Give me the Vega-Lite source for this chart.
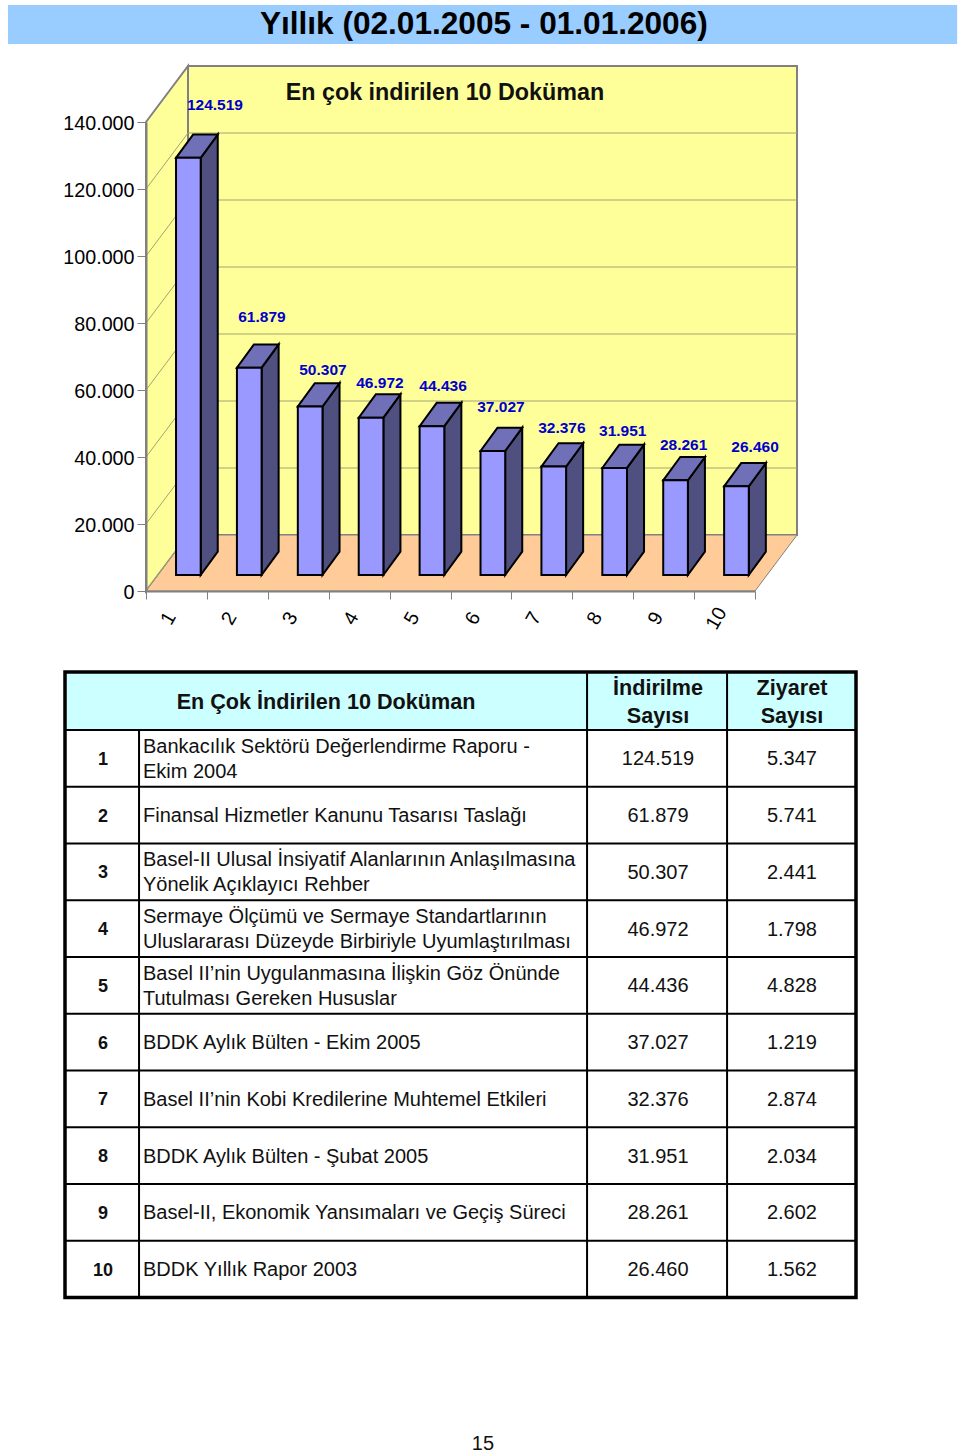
{
"$schema":"https://vega.github.io/schema/vega-lite/v6.json",
"width":960,"height":1454,"padding":0,"background":"white",
"autosize":{"type":"fit","contains":"padding"},
"config":{"view":{"stroke":null},"font":"Liberation Sans","text":{"font":"Liberation Sans"}},
"datasets":{
"belgeler":[
{"sira":1,"baslik":"Bankacılık Sektörü Değerlendirme Raporu -\nEkim 2004","indirilme":124519,"ziyaret":5347},
{"sira":2,"baslik":"Finansal Hizmetler Kanunu Tasarısı Taslağı","indirilme":61879,"ziyaret":5741},
{"sira":3,"baslik":"Basel-II Ulusal İnsiyatif Alanlarının Anlaşılmasına\nYönelik Açıklayıcı Rehber","indirilme":50307,"ziyaret":2441},
{"sira":4,"baslik":"Sermaye Ölçümü ve Sermaye Standartlarının\nUluslararası Düzeyde Birbiriyle Uyumlaştırılması","indirilme":46972,"ziyaret":1798},
{"sira":5,"baslik":"Basel II’nin Uygulanmasına İlişkin Göz Önünde\nTutulması Gereken Hususlar","indirilme":44436,"ziyaret":4828},
{"sira":6,"baslik":"BDDK Aylık Bülten - Ekim 2005","indirilme":37027,"ziyaret":1219},
{"sira":7,"baslik":"Basel II’nin Kobi Kredilerine Muhtemel Etkileri","indirilme":32376,"ziyaret":2874},
{"sira":8,"baslik":"BDDK Aylık Bülten - Şubat 2005","indirilme":31951,"ziyaret":2034},
{"sira":9,"baslik":"Basel-II, Ekonomik Yansımaları ve Geçiş Süreci","indirilme":28261,"ziyaret":2602},
{"sira":10,"baslik":"BDDK Yıllık Rapor 2003","indirilme":26460,"ziyaret":1562}
],
"eksen":[{"deger":0},{"deger":20000},{"deger":40000},{"deger":60000},{"deger":80000},{"deger":100000},{"deger":120000},{"deger":140000}],
"derinlik":[{"k":0},{"k":1}],
"tek":[{"n":1}]
},
"resolve":{"scale":{"x":"independent","y":"independent"}},
"layer":[
{"layer":[
{"data":{"name":"derinlik"},
"transform":[{"calculate":"0.5+datum.k*0.69","as":"xp"},{"calculate":"140000+datum.k*16716","as":"ust"},{"calculate":"datum.k*16716","as":"alt"}],
"mark":{"type":"area","fill":"#ffff99","stroke":"#808080","strokeWidth":2},
"encoding":{"x":{"field":"xp","type":"quantitative","axis":null,"scale":{"domain":[0.5,10.5],"range":[146,755]}},
"y":{"field":"ust","type":"quantitative","axis":null,"stack":null,"scale":{"domain":[0,140000],"range":[591,122]}},
"y2":{"field":"alt"}}},
{"data":{"name":"tek"},
"mark":{"type":"rect","fill":"#ffff99","stroke":"#808080","strokeWidth":2},
"encoding":{"x":{"datum":1.19,"type":"quantitative","axis":null,"scale":{"domain":[0.5,10.5],"range":[146,755]}},"x2":{"datum":11.19},
"y":{"datum":16716,"type":"quantitative","axis":null,"scale":{"domain":[0,140000],"range":[591,122]}},"y2":{"datum":156716}}},
{"data":{"name":"derinlik"},
"transform":[{"calculate":"0.5+datum.k*0.69","as":"sol"},{"calculate":"10.5+datum.k*0.69","as":"sag"},{"calculate":"datum.k*16716","as":"yk"}],
"mark":{"type":"area","orient":"horizontal","fill":"#ffcc99","stroke":"#808080","strokeWidth":1},
"encoding":{"x":{"field":"sol","type":"quantitative","axis":null,"stack":null,"scale":{"domain":[0.5,10.5],"range":[146,755]}},"x2":{"field":"sag"},
"y":{"field":"yk","type":"quantitative","axis":null,"scale":{"domain":[0,140000],"range":[591,122]}}}},
{"data":{"name":"eksen"},
"transform":[{"filter":"datum.deger>0 && datum.deger<140000"},{"calculate":"datum.deger+16716","as":"arka"}],
"mark":{"type":"rule","stroke":"#a3a375","strokeWidth":1},
"encoding":{"x":{"datum":1.19,"type":"quantitative","axis":null,"scale":{"domain":[0.5,10.5],"range":[146,755]}},"x2":{"datum":11.19},
"y":{"field":"arka","type":"quantitative","axis":null,"scale":{"domain":[0,140000],"range":[591,122]}}}}
]},
{"data":{"name":"eksen"},
"transform":[{"filter":"datum.deger<140000"},{"calculate":"datum.deger+16716","as":"arka"}],
"mark":{"type":"rule","stroke":"#a3a375","strokeWidth":1},
"encoding":{"x":{"datum":0.5,"type":"quantitative","scale":{"domain":[0.5,10.5],"range":[146,755]},
"axis":{"title":null,"offset":-863,"orient":"bottom","zindex":1,"values":[0.5,1.5,2.5,3.5,4.5,5.5,6.5,7.5,8.5,9.5,10.5],"labelExpr":"datum.value<10?format(datum.value+0.5,'d'):''","labelAngle":-60,"labelAlign":"center","labelBaseline":"middle","labelOffset":22,"labelPadding":19,"labelFontSize":19.7,"labelColor":"#000000","labelFont":"Liberation Sans","labelOverlap":false,"labelFlush":false,"labelBound":false,"tickColor":"#808080","tickWidth":1,"tickSize":8,"domainColor":"#808080","domainWidth":2,"grid":false}},
"x2":{"datum":1.19},
"y":{"field":"deger","type":"quantitative","scale":{"domain":[0,140000],"range":[591,122]},
"axis":{"title":null,"offset":-146,"orient":"left","zindex":1,"values":[0,20000,40000,60000,80000,100000,120000,140000],"labelExpr":"datum.value==0?'0':replace(format(datum.value,','),',','.')","labelFontSize":19.7,"labelColor":"#000000","labelFont":"Liberation Sans","labelPadding":3,"labelOffset":1,"labelOverlap":false,"labelBound":false,"labelFlush":false,"tickColor":"#808080","tickWidth":1,"tickSize":9,"domainColor":"#808080","domainWidth":2,"grid":false}},
"y2":{"field":"arka"}}},
{"layer":[
{"data":{"name":"belgeler"},
"transform":[{"calculate":"[0,1]","as":"k"},{"flatten":["k"]},{"calculate":"datum.sira+0.398+datum.k*0.28","as":"xs"},{"calculate":"4776+datum.indirilme+datum.k*6955","as":"ust"},{"calculate":"4776+datum.k*6955","as":"alt"}],
"mark":{"type":"area","fill":"#4f4f80","stroke":"#000000","strokeWidth":2},
"encoding":{"x":{"field":"xs","type":"quantitative","axis":null,"scale":{"domain":[0.5,10.5],"range":[146,755]}},
"y":{"field":"ust","type":"quantitative","axis":null,"stack":null,"scale":{"domain":[0,140000],"range":[591,122]}},"y2":{"field":"alt"},"detail":{"field":"sira"}}},
{"data":{"name":"belgeler"},
"transform":[{"calculate":"[0,1]","as":"k"},{"flatten":["k"]},{"calculate":"datum.sira-0.007+datum.k*0.28","as":"sol"},{"calculate":"datum.sira+0.398+datum.k*0.28","as":"sag"},{"calculate":"4776+datum.indirilme+datum.k*6955","as":"ust"}],
"mark":{"type":"area","orient":"horizontal","fill":"#7070b8","stroke":"#000000","strokeWidth":2},
"encoding":{"x":{"field":"sol","type":"quantitative","axis":null,"stack":null,"scale":{"domain":[0.5,10.5],"range":[146,755]}},"x2":{"field":"sag"},
"y":{"field":"ust","type":"quantitative","axis":null,"scale":{"domain":[0,140000],"range":[591,122]}},"detail":{"field":"sira"}}},
{"data":{"name":"belgeler"},
"transform":[{"calculate":"datum.sira-0.007","as":"sol"},{"calculate":"datum.sira+0.398","as":"sag"},{"calculate":"4776+datum.indirilme","as":"ust"},{"calculate":"4776","as":"alt"}],
"mark":{"type":"rect","fill":"#9999ff","stroke":"#000000","strokeWidth":2},
"encoding":{"x":{"field":"sol","type":"quantitative","axis":null,"scale":{"domain":[0.5,10.5],"range":[146,755]}},"x2":{"field":"sag"},
"y":{"field":"ust","type":"quantitative","axis":null,"scale":{"domain":[0,140000],"range":[591,122]}},"y2":{"field":"alt"}}},
{"data":{"name":"belgeler"},
"transform":[{"calculate":"replace(format(datum.indirilme,','),',','.')","as":"etiket"}],
"encoding":{"x":{"field":"sira","type":"quantitative","axis":null,"scale":{"domain":[0.5,10.5],"range":[146,755]}},
"y":{"field":"indirilme","type":"quantitative","axis":null,"scale":{"domain":[0,140000],"range":[591,122]}},
"text":{"field":"etiket"}},
"layer":[
{"transform":[{"filter":"datum.sira==1"}],"mark":{"type":"text","color":"#0000cc","fontWeight":"bold","fontSize":15.5,"dx":38.5,"dy":-69}},
{"transform":[{"filter":"datum.sira==2"}],"mark":{"type":"text","color":"#0000cc","fontWeight":"bold","fontSize":15.5,"dx":24.6,"dy":-66.7}},
{"transform":[{"filter":"datum.sira==3"}],"mark":{"type":"text","color":"#0000cc","fontWeight":"bold","fontSize":15.5,"dx":24.7,"dy":-52.5}},
{"transform":[{"filter":"datum.sira==4"}],"mark":{"type":"text","color":"#0000cc","fontWeight":"bold","fontSize":15.5,"dx":20.8,"dy":-50.6}},
{"transform":[{"filter":"datum.sira==5"}],"mark":{"type":"text","color":"#0000cc","fontWeight":"bold","fontSize":15.5,"dx":23,"dy":-56}},
{"transform":[{"filter":"datum.sira==6"}],"mark":{"type":"text","color":"#0000cc","fontWeight":"bold","fontSize":15.5,"dx":20,"dy":-60}},
{"transform":[{"filter":"datum.sira==7"}],"mark":{"type":"text","color":"#0000cc","fontWeight":"bold","fontSize":15.5,"dx":20,"dy":-54.5}},
{"transform":[{"filter":"datum.sira==8"}],"mark":{"type":"text","color":"#0000cc","fontWeight":"bold","fontSize":15.5,"dx":20,"dy":-53}},
{"transform":[{"filter":"datum.sira==9"}],"mark":{"type":"text","color":"#0000cc","fontWeight":"bold","fontSize":15.5,"dx":20,"dy":-51}},
{"transform":[{"filter":"datum.sira==10"}],"mark":{"type":"text","color":"#0000cc","fontWeight":"bold","fontSize":15.5,"dx":30.5,"dy":-55}}
]}
]},
{"layer":[
{"data":{"name":"tek"},
"mark":{"type":"rect","fill":"#ccffff"},
"encoding":{"x":{"datum":0,"type":"quantitative","axis":null,"scale":{"domain":[0,100],"range":[65,856]}},"x2":{"datum":100},
"y":{"datum":0,"type":"quantitative","axis":null,"scale":{"domain":[1,11],"range":[730,1297.5]}},"y2":{"datum":1}}},
{"data":{"name":"belgeler"},
"mark":{"type":"rule","stroke":"#000000","strokeWidth":2},
"encoding":{"x":{"datum":0,"type":"quantitative","axis":null,"scale":{"domain":[0,100],"range":[65,856]}},"x2":{"datum":100},
"y":{"field":"sira","type":"quantitative","axis":null,"scale":{"domain":[1,11],"range":[730,1297.5]}}}},
{"data":{"name":"tek"},
"mark":{"type":"rule","stroke":"#000000","strokeWidth":2},
"encoding":{"x":{"datum":9.36,"type":"quantitative","axis":null,"scale":{"domain":[0,100],"range":[65,856]}},
"y":{"datum":1,"type":"quantitative","axis":null,"scale":{"domain":[1,11],"range":[730,1297.5]}},"y2":{"datum":11}}},
{"data":{"name":"tek"},
"mark":{"type":"rule","stroke":"#000000","strokeWidth":2},
"encoding":{"x":{"datum":66,"type":"quantitative","axis":null,"scale":{"domain":[0,100],"range":[65,856]}},
"y":{"datum":0,"type":"quantitative","axis":null,"scale":{"domain":[1,11],"range":[730,1297.5]}},"y2":{"datum":11}}},
{"data":{"name":"tek"},
"mark":{"type":"rule","stroke":"#000000","strokeWidth":2},
"encoding":{"x":{"datum":83.7,"type":"quantitative","axis":null,"scale":{"domain":[0,100],"range":[65,856]}},
"y":{"datum":0,"type":"quantitative","axis":null,"scale":{"domain":[1,11],"range":[730,1297.5]}},"y2":{"datum":11}}},
{"data":{"name":"tek"},
"mark":{"type":"rect","fillOpacity":0,"fill":"#ffffff","stroke":"#000000","strokeWidth":3.5},
"encoding":{"x":{"datum":0,"type":"quantitative","axis":null,"scale":{"domain":[0,100],"range":[65,856]}},"x2":{"datum":100},
"y":{"datum":-0.02,"type":"quantitative","axis":null,"scale":{"domain":[1,11],"range":[730,1297.5]}},"y2":{"datum":11}}},
{"data":{"name":"tek"},
"mark":{"type":"text","fontSize":21.6,"fontWeight":"bold","color":"#111111","dy":1},
"encoding":{"x":{"datum":33,"type":"quantitative","axis":null,"scale":{"domain":[0,100],"range":[65,856]}},
"y":{"datum":0.5,"type":"quantitative","axis":null,"scale":{"domain":[1,11],"range":[730,1297.5]}},"text":{"value":"En Çok İndirilen 10 Doküman"}}},
{"data":{"name":"tek"},
"mark":{"type":"text","fontSize":21.6,"fontWeight":"bold","color":"#111111","lineBreak":"\n","lineHeight":28,"dy":-12.5},
"encoding":{"x":{"datum":74.97,"type":"quantitative","axis":null,"scale":{"domain":[0,100],"range":[65,856]}},
"y":{"datum":0.5,"type":"quantitative","axis":null,"scale":{"domain":[1,11],"range":[730,1297.5]}},"text":{"value":"İndirilme\nSayısı"}}},
{"data":{"name":"tek"},
"mark":{"type":"text","fontSize":21.6,"fontWeight":"bold","color":"#111111","lineBreak":"\n","lineHeight":28,"dy":-12.5},
"encoding":{"x":{"datum":91.9,"type":"quantitative","axis":null,"scale":{"domain":[0,100],"range":[65,856]}},
"y":{"datum":0.5,"type":"quantitative","axis":null,"scale":{"domain":[1,11],"range":[730,1297.5]}},"text":{"value":"Ziyaret\nSayısı"}}},
{"data":{"name":"belgeler"},
"transform":[{"calculate":"datum.sira+0.5","as":"orta"},{"calculate":"replace(format(datum.indirilme,','),',','.')","as":"ind"},{"calculate":"replace(format(datum.ziyaret,','),',','.')","as":"ziy"}],
"encoding":{"y":{"field":"orta","type":"quantitative","axis":null,"scale":{"domain":[1,11],"range":[730,1297.5]}}},
"layer":[
{"mark":{"type":"text","fontSize":18,"fontWeight":"bold","color":"#111111","dy":1.5},
"encoding":{"x":{"datum":4.8,"type":"quantitative","axis":null,"scale":{"domain":[0,100],"range":[65,856]}},"text":{"field":"sira"}}},
{"transform":[{"filter":"indexof(datum.baslik,'\\n')<0"}],
"mark":{"type":"text","fontSize":20,"align":"left","color":"#111111","dy":1},
"encoding":{"x":{"datum":9.86,"type":"quantitative","axis":null,"scale":{"domain":[0,100],"range":[65,856]}},"text":{"field":"baslik"}}},
{"transform":[{"filter":"indexof(datum.baslik,'\\n')>=0"}],
"mark":{"type":"text","fontSize":20,"align":"left","lineBreak":"\n","lineHeight":25,"color":"#111111","dy":-11.5},
"encoding":{"x":{"datum":9.86,"type":"quantitative","axis":null,"scale":{"domain":[0,100],"range":[65,856]}},"text":{"field":"baslik"}}},
{"mark":{"type":"text","fontSize":20,"color":"#111111","dy":1},
"encoding":{"x":{"datum":74.97,"type":"quantitative","axis":null,"scale":{"domain":[0,100],"range":[65,856]}},"text":{"field":"ind"}}},
{"mark":{"type":"text","fontSize":20,"color":"#111111","dy":1},
"encoding":{"x":{"datum":91.9,"type":"quantitative","axis":null,"scale":{"domain":[0,100],"range":[65,856]}},"text":{"field":"ziy"}}}
]}
]},
{"data":{"name":"tek"},
"layer":[
{"mark":{"type":"rect","fill":"#99ccff"},
"encoding":{"x":{"datum":0.83,"type":"quantitative","axis":null,"scale":{"domain":[0,100],"range":[0,960]}},"x2":{"datum":99.7},
"y":{"datum":0.34,"type":"quantitative","axis":null,"scale":{"domain":[0,100],"range":[0,1454]}},"y2":{"datum":3.03}}},
{"mark":{"type":"text","fontSize":31.6,"fontWeight":"bold","color":"#000000"},
"encoding":{"x":{"datum":50.4,"type":"quantitative","axis":null,"scale":{"domain":[0,100],"range":[0,960]}},
"y":{"datum":1.72,"type":"quantitative","axis":null,"scale":{"domain":[0,100],"range":[0,1454]}},"text":{"value":"Yıllık (02.01.2005 - 01.01.2006)"}}},
{"mark":{"type":"text","fontSize":23.3,"fontWeight":"bold","color":"#111111"},
"encoding":{"x":{"datum":46.35,"type":"quantitative","axis":null,"scale":{"domain":[0,100],"range":[0,960]}},
"y":{"datum":6.43,"type":"quantitative","axis":null,"scale":{"domain":[0,100],"range":[0,1454]}},"text":{"value":"En çok indirilen 10 Doküman"}}},
{"mark":{"type":"text","fontSize":20,"color":"#111111"},
"encoding":{"x":{"datum":50.3,"type":"quantitative","axis":null,"scale":{"domain":[0,100],"range":[0,960]}},
"y":{"datum":99.3,"type":"quantitative","axis":null,"scale":{"domain":[0,100],"range":[0,1454]}},"text":{"value":"15"}}}
]}
]}
